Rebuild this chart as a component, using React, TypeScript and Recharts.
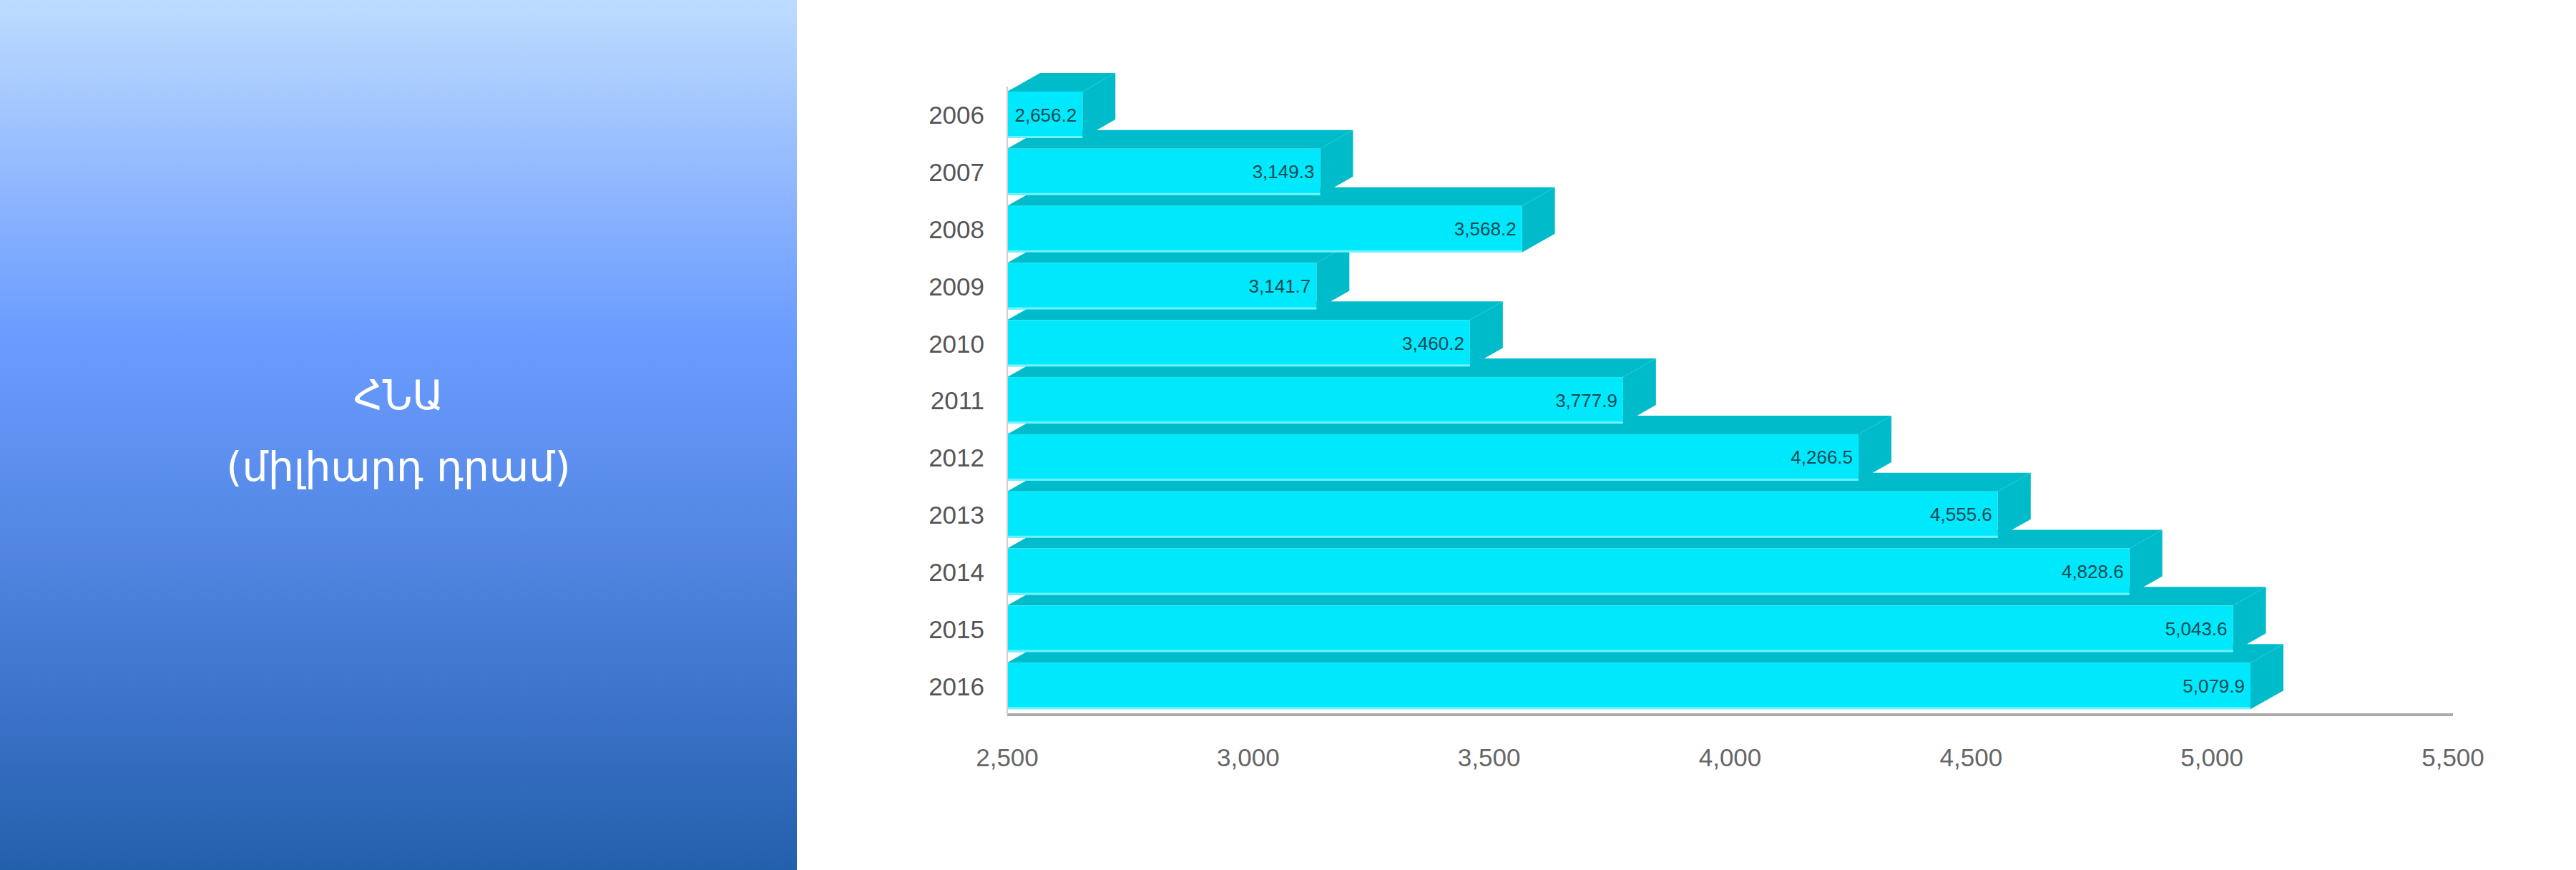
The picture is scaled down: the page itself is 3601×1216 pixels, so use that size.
import React from 'react';
import { BarChart, Bar, XAxis, YAxis } from 'recharts';

const years = ['2006', '2007', '2008', '2009', '2010', '2011', '2012', '2013', '2014', '2015', '2016'];
const gdp = [2656.2, 3149.3, 3568.2, 3141.7, 3460.2, 3777.9, 4266.5, 4555.6, 4828.6, 5043.6, 5079.9];
const xTicks = [2500, 3000, 3500, 4000, 4500, 5000, 5500];

const titleLine1 = 'ՀՆԱ';
const titleLine2 = '(միլիարդ դրամ)';

// bottom bar first so upper bars paint over the top faces below them
const data = years.map((y, i) => ({ year: y, value: gdp[i] })).reverse();

const FRONT = '#00e8fc';
const DARK = '#00bccb';
const DX = 46;
const DY = 26;

const fmt = (v: number) => v.toLocaleString('en-US', { minimumFractionDigits: 1, maximumFractionDigits: 1 });

const Bar3D = (props: any) => {
  const { x, y, width, height, value } = props;
  const x1 = x + width;
  const top = `${x},${y} ${x + DX},${y - DY} ${x1 + DX},${y - DY} ${x1},${y}`;
  const side = `${x1},${y} ${x1 + DX},${y - DY} ${x1 + DX},${y + height - DY} ${x1},${y + height}`;
  return (
    <g>
      <polygon points={top} fill={DARK} />
      <polygon points={side} fill={DARK} />
      <rect x={x} y={y} width={width} height={height} fill={FRONT} />
      <rect x={x} y={y + height - 3} width={width} height={3} fill="#6ff2ff" />
      <text
        x={x1 - 8}
        y={y + height / 2}
        textAnchor="end"
        dominantBaseline="central"
        fontSize={26}
        fontFamily="'Liberation Sans', Arial, sans-serif"
        fill="#174a52"
      >
        {fmt(value)}
      </text>
    </g>
  );
};

export default function App() {
  return (
    <div style={{ position: 'fixed', left: 0, top: 0, width: 3601, height: 1216, background: '#fff' }}>
      <div
        style={{
          position: 'absolute',
          left: 0,
          top: 0,
          width: 1114,
          height: 1216,
          background: 'linear-gradient(180deg, #bddcff 0%, #93b9ff 20%, #6b9dff 38%, #5589e6 60%, #3e74cb 80%, #2360ac 100%)',
          color: '#fff',
          fontFamily: "'DejaVu Sans', sans-serif",
          fontSize: 57,
          textAlign: 'center',
        }}
      >
        <div style={{ position: 'absolute', left: 0, width: 1114, top: 520, lineHeight: '64px' }}>{titleLine1}</div>
        <div style={{ position: 'absolute', left: 0, width: 1114, top: 620, lineHeight: '64px' }}>{titleLine2}</div>
      </div>

      <div style={{ position: 'absolute', left: 1114, top: 0 }}>
        <BarChart
          width={2487}
          height={1216}
          data={data}
          layout="vertical"
          margin={{ top: 121, right: 172, bottom: 117, left: 94 }}
          barSize={65}
        >
          <XAxis
            type="number"
            domain={[2500, 5500]}
            ticks={xTicks}
            allowDataOverflow
            axisLine={{ stroke: '#aaaaaa', strokeWidth: 4 }}
            tickLine={false}
            tickSize={0}
            tickMargin={47}
            height={100}
            tick={{ fontSize: 35, fill: '#666', fontFamily: "'Liberation Sans', Arial, sans-serif" }}
            tickFormatter={(v: number) => v.toLocaleString('en-US')}
          />
          <YAxis
            type="category"
            dataKey="year"
            reversed
            width={200}
            axisLine={{ stroke: '#d6cccc', strokeWidth: 2 }}
            tickLine={false}
            tickSize={0}
            tickMargin={32}
            tick={{ fontSize: 35, fill: '#555', fontFamily: "'Liberation Sans', Arial, sans-serif" }}
          />
          <Bar dataKey="value" shape={Bar3D} isAnimationActive={false} />
        </BarChart>
      </div>
    </div>
  );
}
